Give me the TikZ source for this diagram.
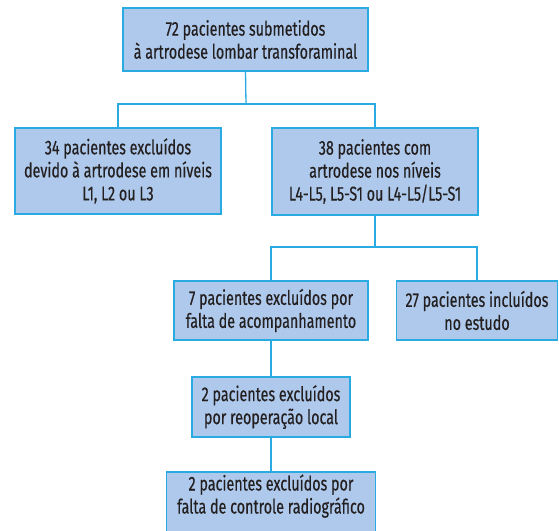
\documentclass[tikz,border=0pt]{standalone}
\usepackage{fontspec}
\setmainfont{Fira Sans}[FakeStretch=0.715,FakeBold=0.4]
\definecolor{boxfill}{HTML}{AEC9EB}
\definecolor{boxline}{HTML}{29AAE1}
\definecolor{txt}{HTML}{231F20}
\begin{document}
\begin{tikzpicture}[x=1pt,y=-1pt,
  box/.style={draw=boxline, fill=boxfill, line width=1.3pt, text=txt, align=center,
    inner sep=0pt, font=\fontsize{20}{23}\selectfont},
  conn/.style={draw=boxline, line width=1.3pt}]
\useasboundingbox (0,0) rectangle (559,530);
\node[box, minimum width=245pt, minimum height=63pt] (b1) at (245.5,39.5) {72 pacientes submetidos\\à artrodese lombar transforaminal};
\node[box, minimum width=206pt, minimum height=86pt] (b2) at (118,171) {34 pacientes excluídos\\devido à artrodese em níveis\\L1, L2 ou L3};
\node[box, minimum width=206pt, minimum height=87pt] (b3) at (375,171.5) {38 pacientes com\\artrodese nos níveis\\L4-L5, L5-S1 ou L4-L5/L5-S1};
\node[box, minimum width=194pt, minimum height=59pt] (b4) at (271,310.5) {7 pacientes excluídos por\\falta de acompanhamento};
\node[box, minimum width=161pt, minimum height=59pt] (b5) at (477,310.5) {27 pacientes incluídos\\no estudo};
\node[box, minimum width=158pt, minimum height=60pt] (b6) at (271,407) {2 pacientes excluídos\\por reoperação local};
\node[box, minimum width=209pt, minimum height=66pt] (b7) at (271,505) {2 pacientes excluídos por\\falta de controle radiográfico\\[-1pt]};
\coordinate (j1) at (246,104);
\coordinate (j2) at (375,247);
\draw[conn] (b1.south) -- (j1);
\draw[conn] (b2.north) |- (j1) -| (b3.north);
\draw[conn] (b3.south) -- (j2);
\draw[conn] (b4.north) |- (j2) -| (b5.north);
\draw[conn] (b4.south) -- (b6.north);
\draw[conn] (b6.south) -- (b7.north);
\end{tikzpicture}
\end{document}
